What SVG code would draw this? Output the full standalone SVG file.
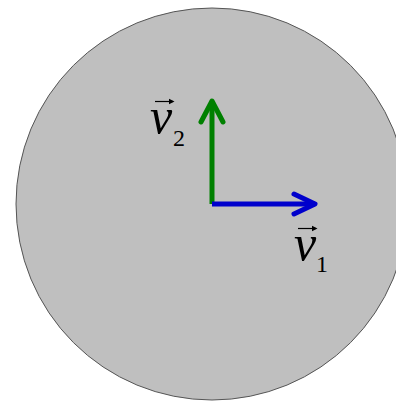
<svg xmlns="http://www.w3.org/2000/svg" width="396" height="401" viewBox="0 0 396 401">
<style>
.lbl{font-family:'Liberation Serif','DejaVu Serif',serif;font-style:italic;fill:#000}
.sub{font-family:'Liberation Serif','DejaVu Serif',serif;fill:#000}
.vec{stroke-width:5;fill:none;stroke-linecap:round;stroke-linejoin:round}
.acc{stroke:#000;stroke-width:1.2;fill:none}
</style>
<rect width="396" height="401" fill="#fff"/>
<g id="disk">
<circle cx="212" cy="204" r="196" fill="#bfbfbf" stroke="#555" stroke-width="1"/>
</g>
<g id="connectors">
<g id="v2-arrow" stroke="#008000" class="vec">
<line x1="212" y1="204" x2="212" y2="101" stroke-linecap="butt"/>
<polyline points="201,122 212,101 223,122"/>
</g>
<g id="v1-arrow" stroke="#0000cc" class="vec">
<line x1="212" y1="204" x2="315" y2="204" stroke-linecap="butt"/>
<polyline points="294,194 315,204 294,214"/>
</g>
</g>
<g id="label-v2">
<text class="lbl" x="150" y="133" font-size="50">v</text>
<text class="sub" x="173" y="146" font-size="24">2</text>
<path class="acc" d="M155,101.5 H173"/>
<path d="M174.5,101.5 L169,98.8 L169,104.2 Z" fill="#000"/>
</g>
<g id="label-v1">
<text class="lbl" x="294" y="260" font-size="50">v</text>
<text class="sub" x="316" y="272" font-size="24">1</text>
<path class="acc" d="M298,228.5 H316"/>
<path d="M317.5,228.5 L312,225.8 L312,231.2 Z" fill="#000"/>
</g>
</svg>
